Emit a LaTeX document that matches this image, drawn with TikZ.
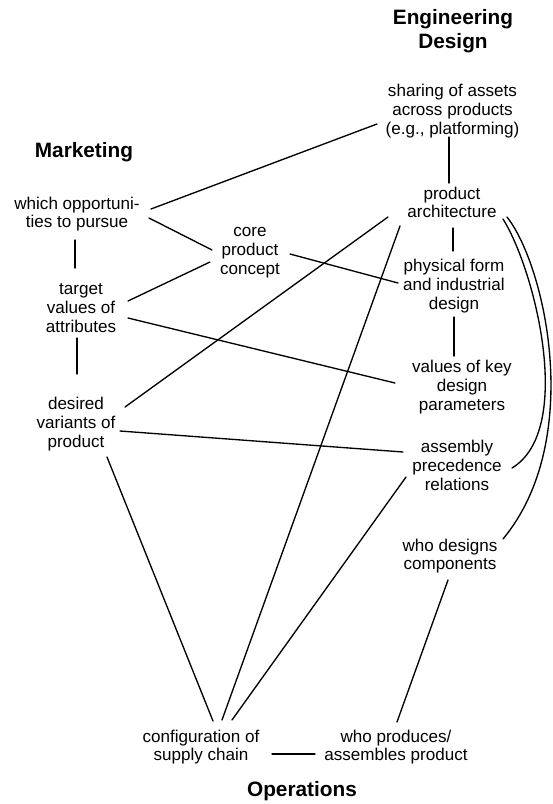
\documentclass[tikz,border=0pt]{standalone}
\usepackage{fontspec}
\setmainfont{Liberation Sans}
\begin{document}
\begin{tikzpicture}[x=0.75pt,y=-0.75pt,
  item/.style={anchor=base,align=center,inner sep=0pt,font=\fontsize{12.8}{14}\selectfont},
  head/.style={anchor=base,align=center,inner sep=0pt,font=\fontsize{15.6}{18.2}\selectfont\bfseries},
  link/.style={line width=1pt,line cap=round}]
\useasboundingbox (0,0) rectangle (553,804);

% group headings (placed by the baseline of their last line)
\node[head] (eng) at (453,48.3) {Engineering\\Design};
\node[head] (mkt) at (84,157) {Marketing};
\node[head] (ops) at (302,796) {Operations};

% decisions (placed by the baseline of their last line)
\node[item] (share)   at (452.5,134.3) {sharing of assets\\across products\\(e.g., platforming)};
\node[item] (which)   at (77,227.7)  {which opportuni-\\ties to pursue};
\node[item] (arch)    at (452,217.7) {product\\architecture};
\node[item] (core)    at (250,274.3) {core\\product\\concept};
\node[item] (phys)    at (454,309.3) {physical form\\and industrial\\design};
\node[item] (target)  at (81,332.3)  {target\\values of\\attributes};
\node[item] (keyval)  at (462,410.3) {values of key\\design\\parameters};
\node[item] (desired) at (76,447.3)  {desired\\variants of\\product};
\node[item] (assy)    at (457,490.3) {assembly\\precedence\\relations};
\node[item] (whodes)  at (450,569.7) {who designs\\components};
\node[item] (supply)  at (201,760.7) {configuration of\\supply chain};
\node[item] (whoprod) at (396,760.7) {who produces/\\assembles product};

% couplings between decisions
\draw[link] ([shift={(74,-18.7)}]which.base)   -- ([shift={(-75.5,-10.3)}]share.base);
\draw[link] ([shift={(72,-9.7)}]which.base)    -- ([shift={(-38,-24.3)}]core.base);
\draw[link] ([shift={(-2,12.3)}]which.base)    -- ([shift={(-6,-64.3)}]target.base);
\draw[link] ([shift={(47,-31.3)}]target.base)  -- ([shift={(-40,-12.3)}]core.base);
\draw[link] ([shift={(47,-14.3)}]target.base)  -- ([shift={(-67,-27.3)}]keyval.base);
\draw[link] ([shift={(-4,5.7)}]target.base)    -- ([shift={(1,-73.3)}]desired.base);
\draw[link] ([shift={(40,-20.3)}]core.base)    -- ([shift={(-56,-26.3)}]phys.base);
\draw[link] ([shift={(-3.5,2.7)}]share.base)   -- ([shift={(-3,-34.7)}]arch.base);
\draw[link] ([shift={(1,10.3)}]arch.base)      -- ([shift={(-1,-58.3)}]phys.base);
\draw[link] ([shift={(0,7.7)}]phys.base)       -- ([shift={(-8,-54.3)}]keyval.base);
\draw[link] ([shift={(49,-40.3)}]desired.base) -- ([shift={(-64,-0.7)}]arch.base);
\draw[link] ([shift={(44,-16.3)}]desired.base) -- ([shift={(-54,-38.3)}]assy.base);
\draw[link] ([shift={(31,9.7)}]desired.base)   -- ([shift={(12,-39.7)}]supply.base);
\draw[link] ([shift={(-52,8.3)}]arch.base)     -- ([shift={(21,-40.7)}]supply.base);
\draw[link] ([shift={(-51,-13.3)}]assy.base)   -- ([shift={(31,-40.7)}]supply.base);
\draw[link] ([shift={(-2,10.3)}]whodes.base)   -- ([shift={(1,-38.7)}]whoprod.base);
\draw[link] ([shift={(71,-6.7)}]supply.base)   -- ([shift={(-81,-6.7)}]whoprod.base);

% long arcs from the architecture
\draw[link] ([shift={(51,1.3)}]arch.base) .. controls +(32,51) and +(63,-38) .. ([shift={(55,-22.3)}]assy.base);
\draw[link] ([shift={(55,-0.7)}]arch.base) .. controls +(38,48) and +(82,-99) .. ([shift={(53,-30.7)}]whodes.base);
\end{tikzpicture}
\end{document}
